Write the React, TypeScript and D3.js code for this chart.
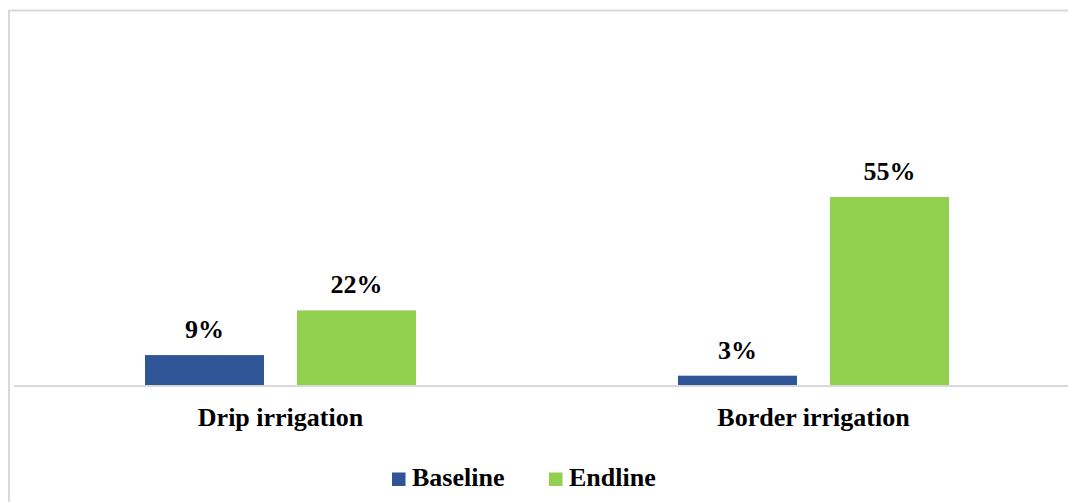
import React from "react";
import * as d3 from "d3";

const categories = ["Drip irrigation", "Border irrigation"];
const seriesNames = ["Baseline", "Endline"];
const baselineValues = [9, 3];
const endlineValues = [22, 55];
const seriesColors = ["#2F5597", "#92D050"];

const W = 1068;
const H = 502;
const FONT = "Liberation Serif, Times New Roman, Times, DejaVu Serif, serif";

const textStyle: React.CSSProperties = {
  fontFamily: FONT,
  fontSize: "26px",
  fontWeight: 700,
};

export default function App() {
  const axisY = 386;
  const x0 = d3.scaleBand<string>().domain(categories).range([14, 1080]).padding(0);
  const groupWidth = 271;
  const x1 = d3
    .scaleBand<string>()
    .domain(seriesNames)
    .range([0, groupWidth])
    .paddingInner(0.217)
    .paddingOuter(0);
  const y = d3.scaleLinear().domain([0, 55]).range([axisY, 197]);

  const seriesValues = [baselineValues, endlineValues];

  return (
    <svg
      width={W}
      height={H}
      style={{ position: "absolute", left: 0, top: 0, background: "#fff" }}
    >
      <rect x={0} y={0} width={W} height={H} fill="#fff" />
      {/* outer frame (open on the right and bottom) */}
      <path d={`M9,${H} L9,10.5 L${W},10.5`} fill="none" stroke="#d9d9d9" strokeWidth={2} />

      {categories.map((cat, ci) => {
        const gx = (x0(cat) ?? 0) + (x0.bandwidth() - groupWidth) / 2;
        return (
          <g key={cat}>
            {seriesNames.map((s, si) => {
              const v = seriesValues[si][ci];
              const bx = gx + (x1(s) ?? 0);
              const by = y(v);
              return (
                <g key={s}>
                  <rect
                    x={bx}
                    y={by}
                    width={x1.bandwidth()}
                    height={axisY - by}
                    fill={seriesColors[si]}
                  />
                  <text
                    x={bx + x1.bandwidth() / 2}
                    y={by - 17}
                    textAnchor="middle"
                    style={textStyle}
                    fill="#000"
                  >
                    {`${v}%`}
                  </text>
                </g>
              );
            })}
            <text
              x={(x0(cat) ?? 0) + x0.bandwidth() / 2}
              y={426}
              textAnchor="middle"
              style={textStyle}
              fill="#000"
            >
              {cat}
            </text>
          </g>
        );
      })}

      {/* category axis */}
      <line x1={14} x2={W} y1={axisY} y2={axisY} stroke="#d9d9d9" strokeWidth={2} />

      {/* legend */}
      {seriesNames.map((s, i) => {
        const lx = [392, 549][i];
        return (
          <g key={s}>
            <rect x={lx} y={472.5} width={13.5} height={13.5} fill={seriesColors[i]} />
            <text x={lx + 20} y={486} style={textStyle} fill="#000">
              {s}
            </text>
          </g>
        );
      })}
    </svg>
  );
}
